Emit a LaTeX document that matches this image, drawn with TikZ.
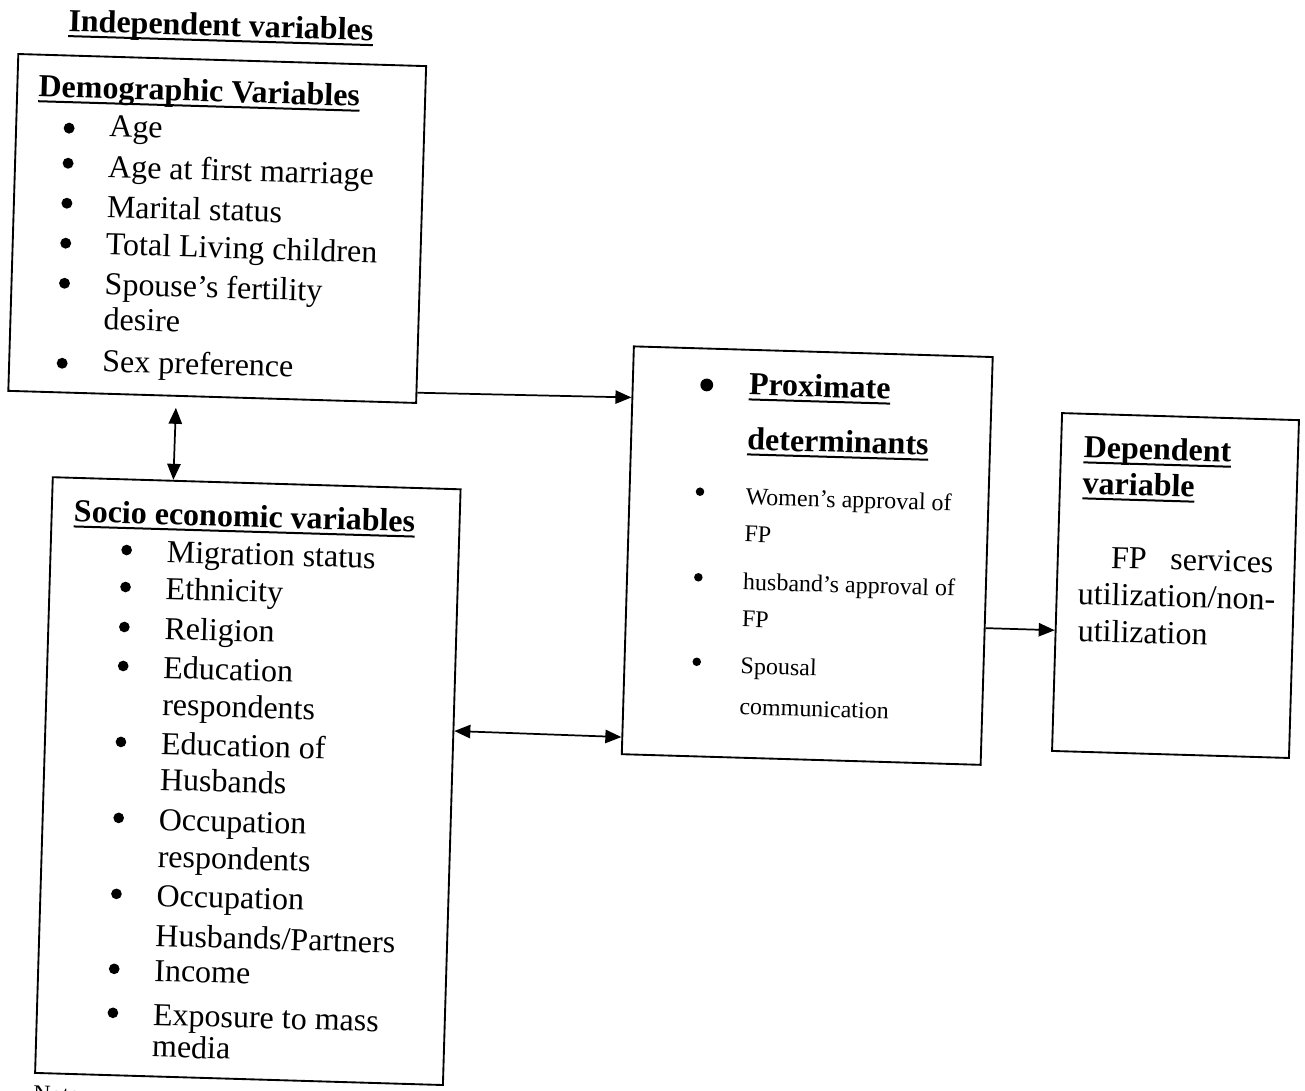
\documentclass[tikz,border=0pt]{standalone}
\usepackage{fontspec}
\setmainfont{Liberation Serif}
\usetikzlibrary{arrows.meta,calc}
\newcommand\myul[1]{\setbox0\hbox{#1}\rlap{\rule[-4.2pt]{\wd0}{1.5pt}}\box0}
\begin{document}
\begin{tikzpicture}[x=0.75pt,y=-0.75pt,
  box/.style={draw, line width=1.4pt, inner sep=0pt},
  big/.style={anchor=base west, inner sep=0pt, font=\fontsize{24pt}{28pt}\selectfont},
  bigb/.style={anchor=base west, inner sep=0pt, font=\fontsize{24pt}{28pt}\selectfont\bfseries},
  small/.style={anchor=base west, inner sep=0pt, font=\fontsize{18pt}{22pt}\selectfont},
  arr/.style={line width=1.3pt, -{Triangle[length=12pt,width=10pt]}},
  darr/.style={line width=1.3pt, {Triangle[length=12pt,width=10pt]}-{Triangle[length=12pt,width=10pt]}},
  dotb/.style={fill=black}
]
\useasboundingbox (0,0) rectangle (1305,1091);
\fill[white] (0,0) rectangle (1305,1091);
\begin{scope}[rotate around={-1.7:(652,545)}, transform shape]
% boxes
\node[box, minimum width=306pt, minimum height=252.75pt] (demo) at (208,241.5) {};
\node[box, minimum width=306pt, minimum height=447pt] (socio) at (255,793) {};
\node[box, minimum width=269.25pt, minimum height=306pt] (prox) at (807.5,551) {};
\node[box, minimum width=177.75pt, minimum height=253.5pt] (dep) at (1176.5,570) {};

% titles
\node[bigb] (indep) at (53,49) {\myul{Independent variables}};

% demographic
\node[bigb] (demoh) at (25,115) {\myul{Demographic Variables}};
\node[big] (d1) at (97,153) {Age};
\node[big] (d2) at (97,193.5) {Age at first marriage};
\node[big] (d3) at (97,233.5) {Marital status};
\node[big] (d4) at (97,271) {Total Living children};
\node[big] (d5) at (97,311) {Spouse’s fertility};
\node[big] (d6) at (97,346) {desire};
\node[big] (d7) at (97,388) {Sex preference};
\foreach \yy in {145.6,180.7,220.7,260.7,300.8,380.8}
  \fill[dotb] (57,\yy) circle[radius=4.1pt];

% socio economic
\node[bigb] (socioh) at (73,539) {\myul{Socio economic variables}};
\node[big] (s1) at (167,576.6) {Migration status};
\node[big] (s2) at (167,613.6) {Ethnicity};
\node[big] (s3) at (167,653.6) {Religion};
\node[big] (s4) at (167,692.6) {Education};
\node[big] (s5) at (167,729.6) {respondents};
\node[big] (s6) at (167,768.6) {Education of};
\node[big] (s7) at (167,804.6) {Husbands};
\node[big] (s8) at (167,844.6) {Occupation};
\node[big] (s9) at (167,881.6) {respondents};
\node[big] (s10) at (167,920.6) {Occupation};
\node[big] (s11) at (167,960.6) {Husbands/Partners};
\node[big] (s12) at (167,995.6) {Income};
\node[big] (s13) at (167,1039.6) {Exposure to mass};
\node[big] (s14) at (167,1071.6) {media};
\foreach \yy in {565.6,602.6,642.6,681.6,757.6,833.6,909.6,984.6,1028.6}
  \fill[dotb] (127,\yy) circle[radius=4pt];
\node[small] (note) at (49.5,1120) {Note:};

% proximate
\node[bigb] (p1) at (744,392) {\myul{Proximate}};
\node[bigb] (p2) at (744,447) {\myul{determinants}};
\node[small] (p3) at (744,502) {Women’s approval of};
\node[small] (p4) at (744,539) {FP};
\node[small] (p5) at (744,587) {husband’s approval of};
\node[small] (p6) at (744,624) {FP};
\node[small] (p7) at (744,671) {Spousal};
\node[small] (p8) at (744,712) {communication};
\fill[dotb] (702,383.4) circle[radius=4.8pt];
\foreach \yy/\xx in {490.3/698.4,575.9/699.3,660.4/700.2}
  \fill[dotb] (\xx,\yy) circle[radius=3.2pt];

% dependent
\node[bigb] (dh1) at (1080.5,445) {\myul{Dependent}};
\node[bigb] (dh2) at (1080.5,481) {\myul{variable}};
\node[big] (fp) at (1111,554.5) {FP};
\node[big, anchor=base east] (serv) at (1274,554.5) {services};
\node[big] (u1) at (1079,591.5) {utilization/non-};
\node[big] (u2) at (1080,628.5) {utilization};

% connectors
\draw[arr] ($(demo.north east)!0.967!(demo.south east)$) -- ($(prox.north west)!0.127!(prox.south west)$);
\coordinate (vtop) at (172,422);
\draw[darr] (vtop) -- ($(socio.north west)!0.2966!(socio.north east)$);
\draw[darr] ($(socio.north east)!0.406!(socio.south east)$) -- ($(prox.north west)!0.956!(prox.south west)$);
\draw[arr] ($(prox.north east)!0.664!(prox.south east)$) -- ($(dep.north west)!0.642!(dep.south west)$);
\end{scope}
\end{tikzpicture}
\end{document}
